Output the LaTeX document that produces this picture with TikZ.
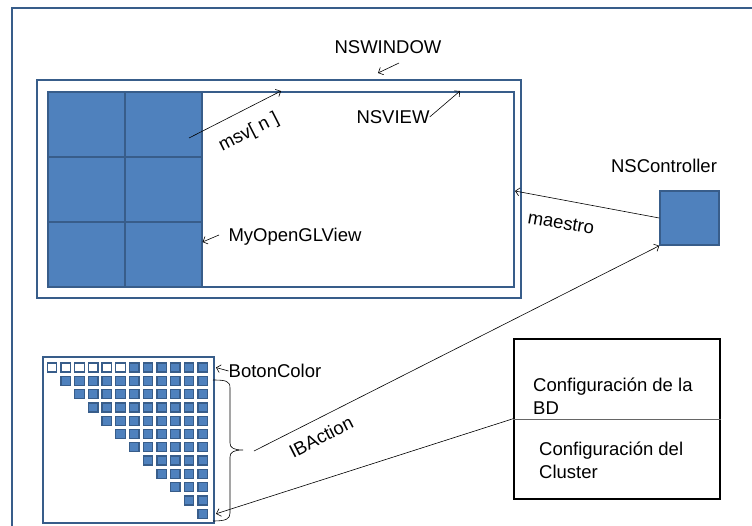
\documentclass[tikz,border=0pt]{standalone}
\usepackage{fontspec}
\setmainfont{Liberation Sans}
\usetikzlibrary{arrows.meta}
\definecolor{azul}{RGB}{79,129,189}
\definecolor{azuloscuro}{RGB}{56,93,138}
\tikzset{
  texto/.style = {inner sep=0pt, font=\fontsize{18.5}{23}\selectfont},
  marco/.style = {draw=azuloscuro, line width=2pt},% ventanas
  celda/.style = {draw=azuloscuro, fill=azul, line width=1.5pt,
    minimum width=77pt, minimum height=65pt, inner sep=0pt, anchor=north west},
  boton/.style = {draw=azuloscuro, fill=azul, line width=1.3pt,
    minimum width=9.5pt, minimum height=9pt, inner sep=0pt},% boton de color
  vacio/.style = {boton, fill=white},
  flecha/.style = {-{Straight Barb[length=4pt,width=8pt]}, line width=0.6pt}
}
\begin{document}
\begin{tikzpicture}[x=1pt,y=-1pt]
\useasboundingbox (0,0) rectangle (752,525);
\clip (0,0) rectangle (752,525);
\fill[white] (0,0) rectangle (752,525);
\draw[marco] (12,8) rectangle (770,540);
% NSWINDOW y NSVIEW
\node[marco, minimum width=484pt, minimum height=218pt, anchor=north west] (ventana) at (36,79) {};
\node[marco, minimum width=466pt, minimum height=195pt, anchor=north west] (vista) at (47,91) {};
\foreach \f in {1,2,3}
  \foreach \c in {1,2}
    \node[celda] (c-\f-\c) at ({47+77*(\c-1)},{91+65*(\f-1)}) {};
\node[texto] (nswindow) at (388,47) {NSWINDOW};
\node[texto] (nsview) at (393,117) {NSVIEW};
\node[texto] (opengl) at (295,237) {MyOpenGLView};
\node[texto, rotate=27] (msv) at (249,133) {msv[ n ]};
\coordinate (w1) at (399,63);
\coordinate (w2) at (378,73);
\coordinate (v2) at (460,91);
\coordinate (m1) at (189,138);
\coordinate (m2) at (281,91);
\coordinate (g1) at (219,235);
\draw[flecha] (w1) -- (w2);
\draw[flecha] (nsview.east) -- (v2);
\draw[flecha] (m1) -- (m2);
\draw[flecha] (g1) -- (c-3-2.east |- 0,242);
% NSController
\node[draw=azuloscuro, fill=azul, line width=1.5pt, minimum width=59pt,
  minimum height=54pt] (control) at (689.5,218) {};
\node[texto] (nscontroller) at (664,166) {NSController};
\draw[flecha] (control.west) -- (vista.east |- 0,191);
\node[texto, rotate=-10] (maestro) at (561,223) {maestro};
% botones
\node[draw=azuloscuro, line width=2pt, minimum width=171pt, minimum height=166pt,
  anchor=north west] (matriz) at (42,356) {};
\foreach \c in {1,...,6}
  \node[vacio] (b-1-\c) at ({52+13.7*(\c-1)},367.5) {};
\foreach \c in {7,...,12}
  \node[boton] (b-1-\c) at ({52+13.7*(\c-1)},367.5) {};
\foreach \f in {2,...,12}
  \foreach \c in {\f,...,12}
    \node[boton] (b-\f-\c) at ({52+13.7*(\c-1)},{367.5+13.3*(\f-1)}) {};
\node[texto] (botoncolor) at (275,371) {BotonColor};
\draw[flecha] (botoncolor.west) -- ([xshift=1pt]matriz.east |- b-1-12);
% llave
\coordinate (llave) at (243,450);
\draw[line width=0.6pt] (213,380) .. controls (226,380) and (230,381) .. (230,388)
  -- (230,443) .. controls (230,448) and (234,450) .. (llave)
  .. controls (234,450) and (230,452) .. (230,457)
  -- (230,513) .. controls (230,519) and (226,521) .. (213,521);
\coordinate (ib) at (254,451);
\draw[flecha] (ib) -- (control.south west);
\node[texto, rotate=27] (ibaction) at (321,437) {IBAction};
% configuracion
\node[draw, line width=1.5pt, minimum width=206pt, minimum height=160pt,
  anchor=north west] (config) at (513,338) {};
\draw[gray!80!black] (config.west) -- (config.east);
\node[texto, align=left, anchor=west] (bd) at (533,396.5) {Configuración de la\\BD};
\node[texto, align=left, anchor=west] (cluster) at (539,460) {Configuración del\\Cluster};
\draw[flecha] (config.west) -- ([xshift=1pt]matriz.east |- b-12-12);
\end{tikzpicture}
\end{document}
